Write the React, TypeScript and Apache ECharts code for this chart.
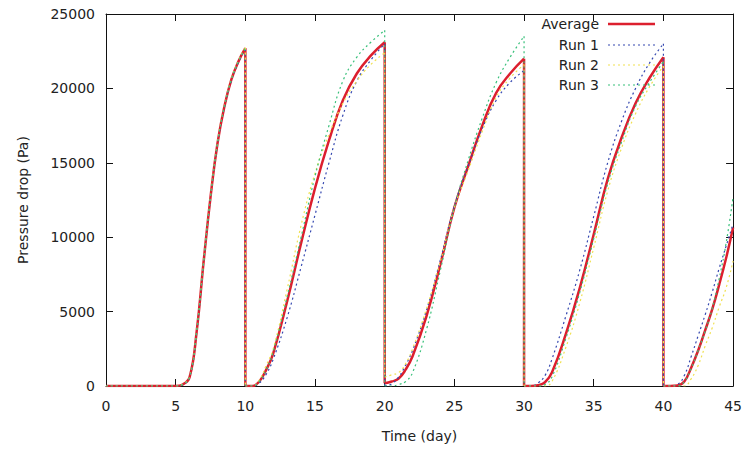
import React, { useEffect, useRef } from "react";
import * as echarts from "echarts";

// Time (day); repeated values mark the instantaneous drops
const days = [
  0, 5, 5.5, 6, 6.5, 7, 7.5, 8, 8.5, 9, 9.5, 10,
  10, 10.5, 11, 11.5, 12, 13, 14, 15, 16, 17, 18, 19, 20,
  20, 20.5, 21, 21.5, 22, 23, 24, 25, 26, 27, 28, 29, 30,
  30, 30.5, 31, 31.5, 32, 33, 34, 35, 36, 37, 38, 39, 40,
  40, 40.5, 41, 41.5, 42, 42.5, 43, 43.5, 44, 44.5, 45,
];

const average = [
  0, 0, 100, 600, 3600, 8300, 12700, 16300, 18800, 20600, 21800, 22700,
  0, 0, 300, 1100, 2200, 5700, 9600, 13300, 16500, 19200, 21000, 22200, 23100,
  180, 300, 500, 1100, 2000, 4700, 8200, 12000, 14800, 17500, 19700, 21000, 22000,
  0, 0, 50, 250, 900, 3500, 6600, 10200, 13900, 16700, 19000, 20700, 22100,
  0, 0, 30, 300, 1250, 2400, 3750, 5150, 6800, 8600, 10650,
];

const run1 = [
  0, 0, 90, 580, 3550, 8250, 12650, 16250, 18750, 20550, 21750, 22650,
  0, 0, 200, 800, 1800, 4600, 8000, 11500, 15000, 18200, 20500, 21900, 23000,
  0, 150, 600, 1400, 2400, 5100, 8500, 12100, 14800, 17300, 19200, 20400, 21200,
  0, 0, 200, 700, 1800, 4700, 7800, 11400, 15000, 17800, 20000, 21700, 23000,
  0, 0, 100, 700, 2000, 3400, 4800, 6300, 7900, 9400, 10900,
];

const run2 = [
  0, 0, 110, 620, 3650, 8350, 12750, 16350, 18850, 20650, 21850, 22750,
  0, 0, 400, 1400, 2500, 6500, 10800, 14300, 16900, 19000, 20500, 21600, 22400,
  600, 750, 900, 1500, 2500, 5200, 8400, 12000, 14500, 17100, 19400, 20700, 21600,
  0, 0, 0, 0, 300, 2600, 5600, 9300, 13100, 16000, 18300, 20100, 21500,
  0, 0, 0, 0, 500, 1400, 2700, 3900, 5300, 6600, 8400,
];

const run3 = [
  0, 0, 100, 600, 3600, 8300, 12700, 16300, 18800, 20600, 21800, 22700,
  0, 0, 300, 1100, 2300, 6000, 10000, 14100, 17500, 20500, 22100, 23100, 23900,
  0, 0, 100, 300, 900, 3800, 7800, 12000, 15200, 18000, 20400, 22100, 23500,
  0, 0, 0, 100, 600, 3200, 6300, 9900, 13600, 16400, 18800, 20400, 21800,
  0, 0, 0, 300, 1200, 2400, 3700, 5200, 7200, 9600, 12700,
];

const seriesNames = ["Average", "Run 1", "Run 2", "Run 3"];
const seriesValues = [average, run1, run2, run3];
const seriesColors = ["#dc1f2e", "#3548b0", "#f0e050", "#38c07a"];

const FONT = '"DejaVu Sans", sans-serif';

// Smooth rising parts: cycles separated by nulls at each drop
function risingData(values: number[]) {
  const out: any[] = [];
  days.forEach((d, k) => {
    if (k > 0 && days[k - 1] === d) out.push(null);
    out.push([d, values[k]]);
  });
  return out;
}

// Straight vertical drops only
function dropData(values: number[]) {
  const out: any[] = [];
  days.forEach((d, k) => {
    if (k > 0 && days[k - 1] === d) {
      out.push([d, values[k - 1]], [d, values[k]], null);
    }
  });
  return out;
}

export default function App() {
  const ref = useRef<HTMLDivElement>(null);

  useEffect(() => {
    if (!ref.current) return;
    const chart = echarts.init(ref.current, undefined, { renderer: "svg" });

    const lineStyles = [
      { width: 2.5, type: "solid" as any },
      { width: 1.2, type: [2, 3] as any },
      { width: 1.2, type: [2, 3] as any },
      { width: 1.2, type: [2, 3] as any },
    ];
    const dropZ = [2, 3, 6, 4];

    const series: any[] = [];
    seriesNames.forEach((name, i) => {
      const common = {
        name,
        type: "line",
        showSymbol: false,
        symbol: "none",
        connectNulls: false,
        lineStyle: { color: seriesColors[i], ...lineStyles[i] },
        itemStyle: { color: seriesColors[i] },
      };
      series.push({ ...common, z: 2 + i, data: risingData(seriesValues[i]), smooth: 0.45 });
      series.push({ ...common, z: dropZ[i], data: dropData(seriesValues[i]), smooth: false });
    });

    const legendX1 = 608;
    const legendX2 = 655;
    const legendTextX = 599;
    const legendY = [24, 45, 65, 85];

    const graphics: any[] = [];
    seriesNames.forEach((name, i) => {
      graphics.push({
        type: "text",
        x: legendTextX,
        y: legendY[i],
        style: {
          text: name,
          font: `14px ${FONT}`,
          fill: "#222",
          align: "right",
          verticalAlign: "middle",
          textAlign: "right",
          textVerticalAlign: "middle",
        },
        z: 100,
      });
      graphics.push({
        type: "line",
        shape: { x1: legendX1, y1: legendY[i], x2: legendX2, y2: legendY[i] },
        style: {
          stroke: seriesColors[i],
          lineWidth: lineStyles[i].width,
          lineDash: i === 0 ? null : [2, 3],
        },
        z: 100,
      });
    });

    const axisCommon = {
      type: "value" as const,
      axisLine: { show: true, onZero: false, lineStyle: { color: "#111", width: 1 } },
      axisTick: { show: true, inside: true, length: 7, lineStyle: { color: "#111", width: 1 } },
      splitLine: { show: false },
    };
    const plain = (v: number) => String(v);

    chart.setOption({
      animation: false,
      backgroundColor: "#fff",
      grid: { left: 106, right: 10, top: 14, bottom: 64, containLabel: false },
      xAxis: [
        {
          ...axisCommon,
          position: "bottom",
          min: 0,
          max: 45,
          interval: 5,
          name: "Time (day)",
          nameLocation: "middle",
          nameGap: 43,
          nameTextStyle: { fontFamily: FONT, fontSize: 14, color: "#222" },
          axisLabel: { margin: 13, fontFamily: FONT, fontSize: 14, color: "#222", formatter: plain },
        },
        {
          ...axisCommon,
          position: "top",
          min: 0,
          max: 45,
          interval: 5,
          axisLabel: { show: false },
        },
      ],
      yAxis: [
        {
          ...axisCommon,
          position: "left",
          min: 0,
          max: 25000,
          interval: 5000,
          name: "Pressure drop (Pa)",
          nameLocation: "middle",
          nameGap: 76,
          nameTextStyle: { fontFamily: FONT, fontSize: 14, color: "#222" },
          axisLabel: { margin: 11, fontFamily: FONT, fontSize: 14, color: "#222", formatter: plain },
        },
        {
          ...axisCommon,
          position: "right",
          min: 0,
          max: 25000,
          interval: 5000,
          axisLabel: { show: false },
        },
      ],
      series,
      graphic: graphics,
    });

    return () => chart.dispose();
  }, []);

  return (
    <div
      ref={ref}
      style={{ position: "fixed", left: 0, top: 0, width: 745, height: 450, background: "#fff" }}
    />
  );
}
